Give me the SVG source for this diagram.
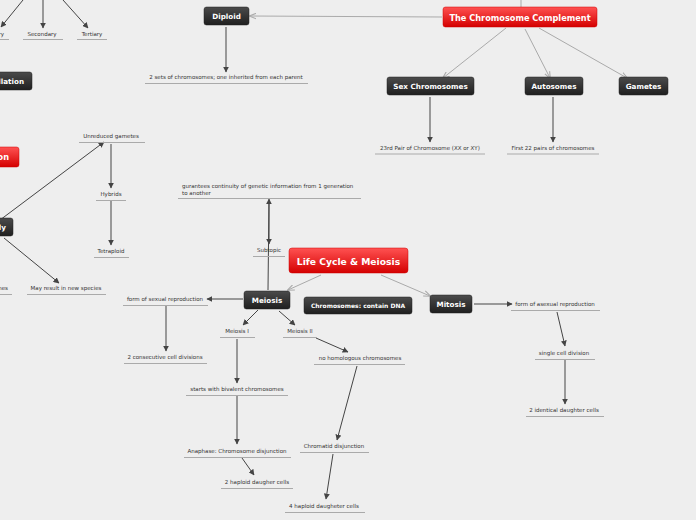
<svg xmlns="http://www.w3.org/2000/svg" width="696" height="520" viewBox="0 0 696 520">
<defs>
<linearGradient id="gDark" x1="0" y1="0" x2="0" y2="1"><stop offset="0" stop-color="#4b4b4b"/><stop offset="1" stop-color="#1f1f1f"/></linearGradient>
<linearGradient id="gRed" x1="0" y1="0" x2="0" y2="1"><stop offset="0" stop-color="#ff5252"/><stop offset="1" stop-color="#d40000"/></linearGradient>
<marker id="aD" viewBox="0 0 10 10" refX="9" refY="5" markerWidth="6" markerHeight="6" markerUnits="userSpaceOnUse" orient="auto"><path d="M0,0 L10,5 L0,10 Z" fill="#444"/></marker>
<marker id="aL" viewBox="0 0 10 10" refX="9" refY="5" markerWidth="7" markerHeight="7" markerUnits="userSpaceOnUse" orient="auto"><path d="M0,1 L10,5 L0,9" fill="none" stroke="#aaa" stroke-width="1.5"/></marker>
</defs>
<style>
.bg{fill:#eeeeee}
.dk{fill:url(#gDark);stroke:#222;stroke-width:0.5}
.rd{fill:url(#gRed);stroke:#c00;stroke-width:0.5}
.nt{font-family:"DejaVu Sans",Verdana,sans-serif;font-weight:bold;fill:#fff;text-anchor:middle;font-size:7.2px}
.big{font-size:8.2px}
.huge{font-size:9.2px}
.lb{font-family:"DejaVu Sans",Verdana,sans-serif;fill:#333;text-anchor:middle;font-size:5.5px}
.ul{stroke:#aaa;stroke-width:1}
.cd{stroke:#444;stroke-width:1;fill:none;marker-end:url(#aD)}
.cl{stroke:#aaa;stroke-width:1;fill:none;marker-end:url(#aL)}
</style>
<rect class="bg" x="0" y="0" width="696" height="520"/>

<g id="connectors">
<line class="cd" x1="23" y1="0" x2="1" y2="27"/>
<line class="cd" x1="43" y1="0" x2="43" y2="28"/>
<line class="cd" x1="63" y1="0" x2="88" y2="28"/>
<line class="cl" x1="442" y1="17" x2="250" y2="16"/>
<line class="cl" x1="521" y1="7" x2="521" y2="0" style="marker-end:none"/>
<line class="cd" x1="226" y1="27" x2="226" y2="72"/>
<line class="cl" x1="506" y1="28" x2="443" y2="78"/>
<line class="cl" x1="525" y1="29" x2="550" y2="78"/>
<line class="cl" x1="539" y1="28" x2="627" y2="78"/>
<line class="cd" x1="430" y1="97" x2="430" y2="142"/>
<line class="cd" x1="553" y1="97" x2="553" y2="142"/>
<line class="cd" x1="0" y1="220" x2="104" y2="142"/>
<line class="cd" x1="111" y1="144" x2="111" y2="188"/>
<line class="cd" x1="111" y1="201" x2="111" y2="245"/>
<line class="cd" x1="4" y1="238" x2="59" y2="283"/>
<line class="cd" x1="268" y1="290" x2="269" y2="199"/>
<line class="cd" x1="269" y1="200" x2="269" y2="244"/>
<line class="cl" x1="321" y1="275" x2="288" y2="290"/>
<line class="cl" x1="381" y1="275" x2="430" y2="296"/>
<line class="cd" x1="243" y1="299" x2="207" y2="299"/>
<line class="cd" x1="166" y1="306" x2="166" y2="351"/>
<line class="cd" x1="258" y1="310" x2="243" y2="325"/>
<line class="cd" x1="279" y1="311" x2="295" y2="325"/>
<line class="cd" x1="237" y1="339" x2="237" y2="383"/>
<line class="cd" x1="237" y1="396" x2="237" y2="444"/>
<line class="cd" x1="242" y1="458" x2="254" y2="475"/>
<line class="cd" x1="316" y1="338" x2="348" y2="352"/>
<line class="cd" x1="357" y1="366" x2="337" y2="440"/>
<line class="cd" x1="333" y1="454" x2="326" y2="499"/>
<line class="cd" x1="474" y1="304" x2="512" y2="304"/>
<line class="cd" x1="557" y1="312" x2="565" y2="346"/>
<line class="cd" x1="565" y1="360" x2="565" y2="404"/>
</g>

<g id="n-primary"><text class="lb" x="4" y="36" style="text-anchor:end">ry</text><line class="ul" x1="0" y1="39.5" x2="9" y2="39.5"/></g>
<g id="n-secondary"><text class="lb" x="42" y="36">Secondary</text><line class="ul" x1="23" y1="39.5" x2="63" y2="39.5"/></g>
<g id="n-tertiary"><text class="lb" x="92" y="36">Tertiary</text><line class="ul" x1="77" y1="39.5" x2="107" y2="39.5"/></g>
<g id="n-llation"><rect class="dk" x="-40" y="72" width="72" height="18" rx="2.5"/><text class="nt" x="24" y="84" style="text-anchor:end">llation</text></g>
<g id="n-diploid"><rect class="dk" x="204" y="7" width="45" height="18" rx="2.5"/><text class="nt" x="226.5" y="19">Diploid</text></g>
<g id="n-2sets"><text class="lb" x="226" y="79">2 sets of chromosomes; one inherited from each parent</text><line class="ul" x1="145" y1="83.5" x2="308" y2="83.5"/></g>
<g id="n-complement"><rect class="rd" x="443" y="7" width="154" height="20" rx="2.5"/><text class="nt big" x="520" y="20.5">The Chromosome Complement</text></g>
<g id="n-sex"><rect class="dk" x="387" y="77" width="87" height="18" rx="2.5"/><text class="nt" x="430.5" y="89">Sex Chromosomes</text></g>
<g id="n-auto"><rect class="dk" x="525" y="77" width="58" height="18" rx="2.5"/><text class="nt" x="554" y="89">Autosomes</text></g>
<g id="n-gametes"><rect class="dk" x="619" y="77" width="49" height="18" rx="2.5"/><text class="nt" x="643.5" y="89">Gametes</text></g>
<g id="n-23rd"><text class="lb" x="430" y="150">23rd Pair of Chromosome (XX or XY)</text><line class="ul" x1="375" y1="154" x2="485" y2="154"/></g>
<g id="n-first22"><text class="lb" x="553" y="150">First 22 pairs of chromosomes</text><line class="ul" x1="507" y1="154" x2="599" y2="154"/></g>
<g id="n-on"><rect class="rd" x="-40" y="147" width="59" height="20" rx="2.5"/><text class="nt big" x="9" y="160" style="text-anchor:end">on</text></g>
<g id="n-ly"><rect class="dk" x="-40" y="218" width="53" height="18" rx="2.5"/><text class="nt" x="6" y="230" style="text-anchor:end">ly</text></g>
<g id="n-unreduced"><text class="lb" x="111" y="138">Unreduced gametes</text><line class="ul" x1="79" y1="142.5" x2="145" y2="142.5"/></g>
<g id="n-hybrids"><text class="lb" x="111" y="196">Hybrids</text><line class="ul" x1="96" y1="200.5" x2="126" y2="200.5"/></g>
<g id="n-tetraploid"><text class="lb" x="111" y="253">Tetraploid</text><line class="ul" x1="94" y1="257.5" x2="129" y2="257.5"/></g>
<g id="n-nes"><text class="lb" x="8" y="290" style="text-anchor:end">nes</text><line class="ul" x1="0" y1="294.5" x2="12" y2="294.5"/></g>
<g id="n-newspecies"><text class="lb" x="66" y="290">May result in new species</text><line class="ul" x1="27" y1="294.5" x2="106" y2="294.5"/></g>
<g id="n-gurantees"><text class="lb" x="182" y="188" style="text-anchor:start">gurantees continuity of genetic information from 1 generation</text><text class="lb" x="182" y="195" style="text-anchor:start">to another</text><line class="ul" x1="178" y1="198.5" x2="361" y2="198.5"/></g>
<g id="n-subtopic"><text class="lb" x="269" y="252">Subtopic</text><line class="ul" x1="253" y1="256.5" x2="285" y2="256.5"/></g>
<g id="n-lifecycle"><rect class="rd" x="289" y="248" width="119" height="25" rx="3"/><text class="nt huge" x="348.5" y="265">Life Cycle &amp; Meiosis</text></g>
<g id="n-meiosis"><rect class="dk" x="244" y="291" width="46" height="18" rx="2.5"/><text class="nt" x="267" y="303">Meiosis</text></g>
<g id="n-dna"><rect class="dk" x="304" y="297" width="108" height="17" rx="2.5"/><text class="nt" x="358" y="308.2" style="font-size:6px">Chromosomes: contain DNA</text></g>
<g id="n-mitosis"><rect class="dk" x="430" y="295" width="42" height="18" rx="2.5"/><text class="nt" x="451" y="307">Mitosis</text></g>
<g id="n-sexual"><text class="lb" x="165" y="301">form of sexual reproduction</text><line class="ul" x1="123" y1="305.5" x2="208" y2="305.5"/></g>
<g id="n-2consec"><text class="lb" x="165" y="359">2 consecutive cell divisions</text><line class="ul" x1="124" y1="363.5" x2="207" y2="363.5"/></g>
<g id="n-meiosis1"><text class="lb" x="237" y="333">Meiosis I</text><line class="ul" x1="220" y1="337.5" x2="255" y2="337.5"/></g>
<g id="n-meiosis2"><text class="lb" x="300" y="333">Meiosis II</text><line class="ul" x1="283" y1="337.5" x2="317" y2="337.5"/></g>
<g id="n-bivalent"><text class="lb" x="237" y="391">starts with bivalent chromosomes</text><line class="ul" x1="186" y1="395.5" x2="288" y2="395.5"/></g>
<g id="n-anaphase"><text class="lb" x="237" y="453">Anaphase: Chromosome disjunction</text><line class="ul" x1="184" y1="457.5" x2="291" y2="457.5"/></g>
<g id="n-2haploid"><text class="lb" x="257" y="484">2 haploid daugher cells</text><line class="ul" x1="221" y1="488.5" x2="293" y2="488.5"/></g>
<g id="n-nohomo"><text class="lb" x="360" y="360">no homologous chromosomes</text><line class="ul" x1="314" y1="364.5" x2="405" y2="364.5"/></g>
<g id="n-chromatid"><text class="lb" x="334" y="448">Chromatid disjunction</text><line class="ul" x1="300" y1="452.5" x2="369" y2="452.5"/></g>
<g id="n-4haploid"><text class="lb" x="324" y="508">4 haploid daugheter cells</text><line class="ul" x1="285" y1="512.5" x2="365" y2="512.5"/></g>
<g id="n-asexual"><text class="lb" x="555" y="306">form of asexual reproduction</text><line class="ul" x1="511" y1="310.5" x2="600" y2="310.5"/></g>
<g id="n-single"><text class="lb" x="564" y="355">single cell division</text><line class="ul" x1="535" y1="359.5" x2="595" y2="359.5"/></g>
<g id="n-2identical"><text class="lb" x="564" y="412">2 identical daughter cells</text><line class="ul" x1="526" y1="416.5" x2="604" y2="416.5"/></g>
</svg>
